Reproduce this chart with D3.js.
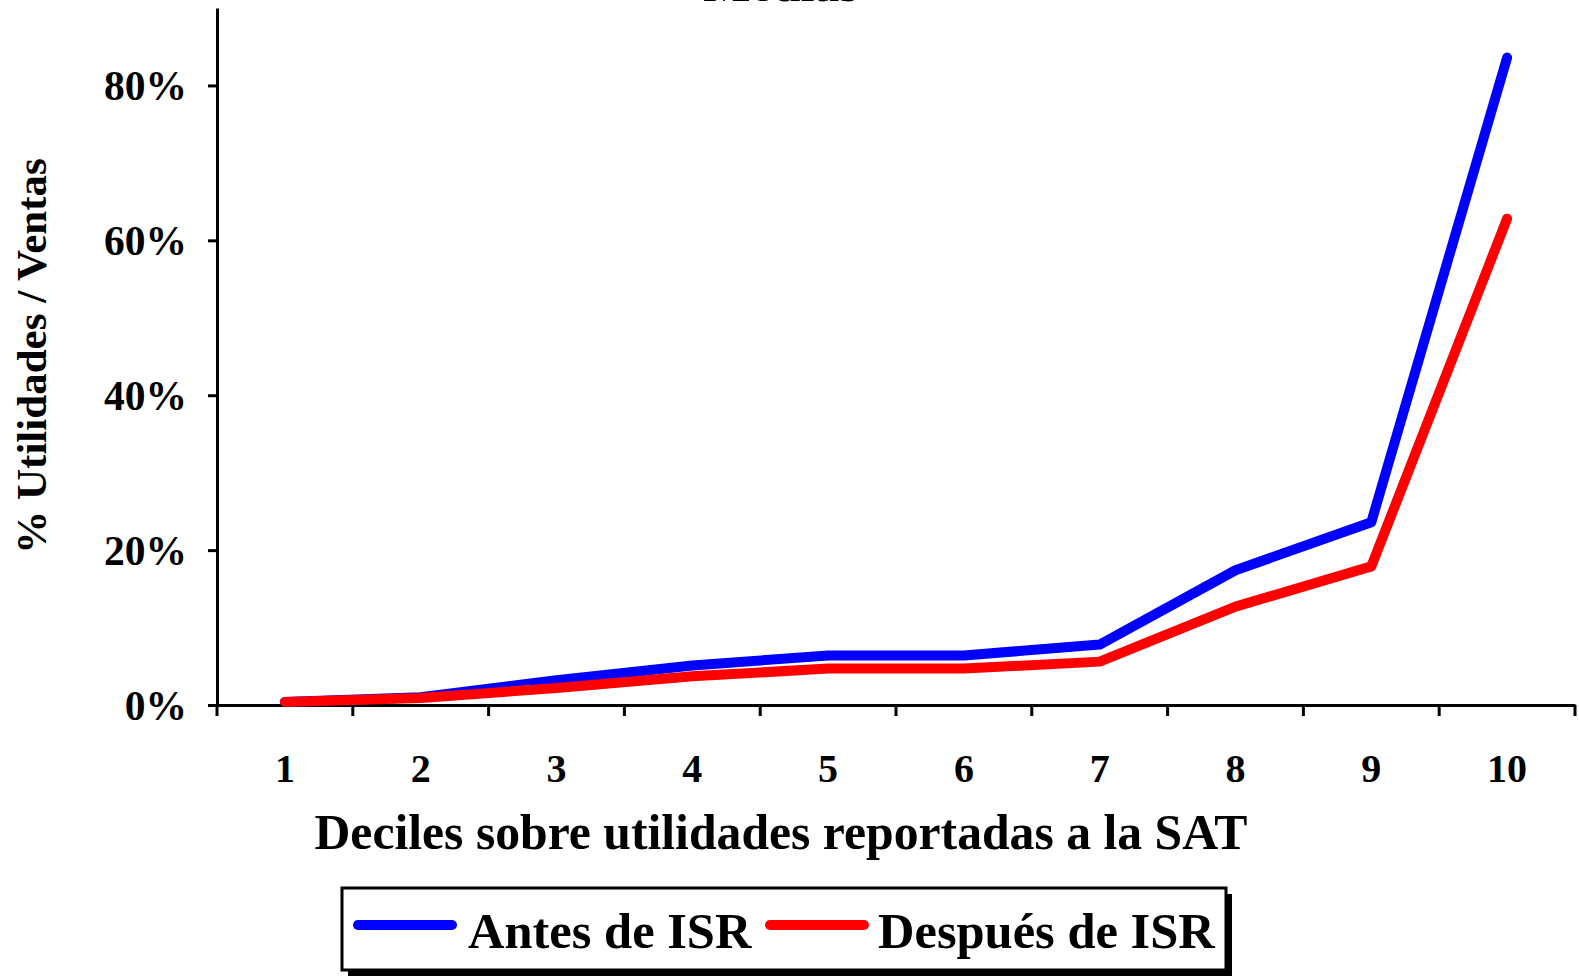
<!DOCTYPE html>
<html><head><meta charset="utf-8">
<script src="https://cdn.jsdelivr.net/npm/d3@7"></script>
<style>body{margin:0;background:#fff}svg{display:block}text{font-family:"Liberation Serif","Times New Roman",serif;font-weight:bold}</style>
</head><body><svg id="c" width="1579" height="977"></svg>
<script>
const categories = ["1","2","3","4","5","6","7","8","9","10"];
const antes = [0.4, 1.0, 3.2, 5.1, 6.4, 6.4, 7.8, 17.4, 23.6, 83.6];
const despues = [0.4, 0.9, 2.2, 3.7, 4.7, 4.7, 5.6, 12.7, 17.9, 62.8];
const yTicks = [0, 20, 40, 60, 80];
const seriesNames = ["Antes de ISR", "Después de ISR"];
const colors = ["#0000FF", "#FF0000"];

const svg = d3.select("#c");
const x = d3.scaleBand().domain(categories).range([217, 1575]);
const y = d3.scaleLinear().domain([0, 90]).range([705, 8]);

// partial title (cut off at top edge in the reference)
svg.append("text").attr("x", 781).attr("y", 1).attr("text-anchor","middle").attr("font-size", 50).text("Medias");

// y axis
const ya = svg.append("g").attr("transform","translate(217,0)")
  .call(d3.axisLeft(y).tickValues(yTicks).tickSize(9).tickSizeOuter(0).tickFormat(d => d + "%"));
ya.select(".domain").attr("stroke","#000").attr("stroke-width",3);
ya.selectAll(".tick line").attr("stroke-width",3);
ya.selectAll(".tick text").attr("font-size",41.5).attr("x",-30).attr("dy","0.35em").attr("fill","#000");

// x axis
const xa = svg.append("g").attr("transform","translate(0,705)")
  .call(d3.axisBottom(x).tickSize(11).tickSizeOuter(0));
xa.select(".domain").attr("stroke-width",3);
xa.selectAll(".tick line").attr("stroke-width",3).attr("transform", function(){ return "translate(" + (-x.bandwidth()/2) + ",0)"; });
xa.append("line").attr("x1",1575).attr("x2",1575).attr("y1",0).attr("y2",11).attr("stroke","#000").attr("stroke-width",3);
xa.selectAll(".tick text").attr("font-size",40).attr("y",49).attr("dy","0.71em").attr("fill","#000");

// axis titles
svg.append("text").attr("x",781).attr("y",849).attr("text-anchor","middle").attr("font-size",49.7).text("Deciles sobre utilidades reportadas a la SAT");
svg.append("text").attr("transform","translate(46,356) rotate(-90)").attr("text-anchor","middle").attr("font-size",43).text("% Utilidades / Ventas");

// lines
const line = d3.line().x((d,i) => x(categories[i]) + x.bandwidth()/2).y(d => y(d));
[antes, despues].forEach((s,i) => {
  svg.append("path").attr("d", line(s)).attr("fill","none").attr("stroke",colors[i])
    .attr("stroke-width",10).attr("stroke-linecap","round").attr("stroke-linejoin","round");
});

// legend
svg.append("rect").attr("x",348).attr("y",894).attr("width",884).attr("height",82).attr("fill","#000");
svg.append("rect").attr("x",342).attr("y",888).attr("width",884).attr("height",82).attr("fill","#fff").attr("stroke","#000").attr("stroke-width",3);
const lx = [358, 770], tx = [468, 878];
seriesNames.forEach((n,i) => {
  svg.append("line").attr("x1",lx[i]).attr("x2",lx[i]+94).attr("y1",925).attr("y2",925).attr("stroke",colors[i]).attr("stroke-width",10).attr("stroke-linecap","round");
  svg.append("text").attr("x",tx[i]).attr("y",948).attr("font-size",50.5).text(n);
});
</script></body></html>
